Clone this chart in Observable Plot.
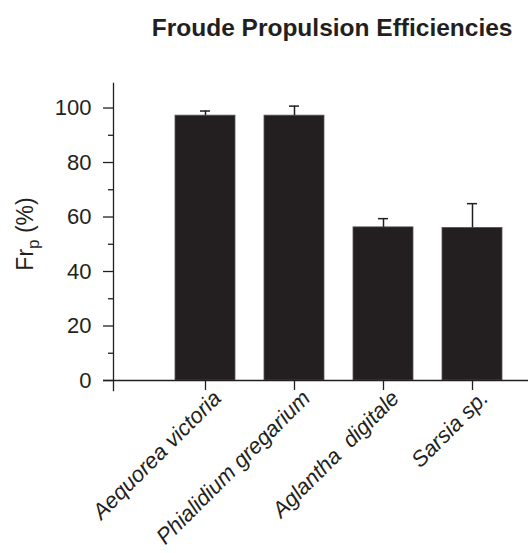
<!DOCTYPE html>
<html>
<head>
<meta charset="utf-8">
<script src="https://cdn.jsdelivr.net/npm/d3@7"></script>
<script src="https://cdn.jsdelivr.net/npm/@observablehq/plot@0.6"></script>
<style>
  html, body { margin: 0; padding: 0; background: #fff; }
  svg { font-family: "Liberation Sans", Arial, sans-serif; }
</style>
</head>
<body>
<div id="chart"></div>
<script>
const title = "Froude Propulsion Efficiencies";
const species = ["Aequorea victoria", "Phialidium gregarium", "Aglantha  digitale", "Sarsia sp."];
const efficiency = [97.2, 97.2, 56.2, 56.0];
const errorUpper = [98.9, 100.7, 59.4, 64.9];
const majorTicks = [0, 20, 40, 60, 80, 100];
const minorTicks = [10, 30, 50, 70, 90];

const data = species.map((s, i) => ({species: s, value: efficiency[i], upper: errorUpper[i]}));
const ink = "#231f20";

const plot = Plot.plot({
  width: 528,
  height: 553,
  marginTop: 83,
  marginBottom: 163,
  marginLeft: 113,
  marginRight: 0,
  style: {fontFamily: "Liberation Sans, Arial, sans-serif", background: "#fff", color: ink},
  x: {type: "band", domain: species, paddingInner: 0.327, paddingOuter: 0.489, align: 0.699, axis: null},
  y: {domain: [-3.67, 109], axis: null},
  marks: [
    Plot.barY(data, {x: "species", y: "value", fill: ink, stroke: "#555", strokeWidth: 0.8}),
    Plot.ruleX(data, {x: "species", y1: "value", y2: "upper", stroke: ink, strokeWidth: 1.5}),
    Plot.tickY(data, {x: "species", y: "upper", stroke: ink, strokeWidth: 1.5, insetLeft: 25, insetRight: 25}),
    Plot.ruleY([0], {stroke: ink, strokeWidth: 1.3, insetLeft: -10}),
    Plot.ruleX(species, {x: d => d, y1: 0, y2: -3.67, stroke: ink, strokeWidth: 1.3}),
    Plot.frame({anchor: "left", stroke: ink, strokeWidth: 1.3}),
    Plot.axisY({ticks: majorTicks, tickSize: 10, tickPadding: 12, fontSize: 22, label: null, stroke: ink, strokeWidth: 1.3}),
    Plot.axisY({ticks: minorTicks, tickSize: 5, text: null, label: null, stroke: ink, strokeWidth: 1.3}),
    Plot.axisX({tickSize: 0, tickRotate: -45, tickPadding: 4, fontSize: 22, fontStyle: "italic", label: null, dx: 12}),
    Plot.text([title], {frameAnchor: "top-right", text: d => d, dx: -16, dy: -65, fontSize: 24.5, fontWeight: "bold", textAnchor: "end", fill: ink})
  ]
});

document.getElementById("chart").appendChild(plot);

// y-axis label with subscript
const svg = d3.select(plot);
const label = svg.append("text")
  .attr("transform", "translate(33,234) rotate(-90)")
  .attr("text-anchor", "middle")
  .attr("font-size", 23)
  .attr("fill", ink)
  .attr("font-family", "Liberation Sans, Arial, sans-serif");
label.append("tspan").text("Fr");
label.append("tspan").attr("font-size", 17).attr("dy", 6).text("p");
label.append("tspan").attr("dy", -6).text(" (%)");
</script>
</body>
</html>
